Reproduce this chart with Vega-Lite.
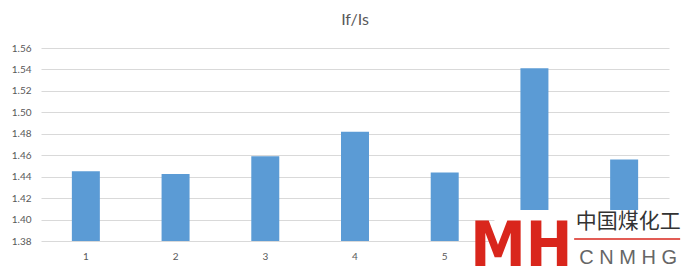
{
  "$schema": "https://vega.github.io/schema/vega-lite/v6.json",
  "width": 628,
  "height": 193,
  "autosize": {"type": "none"},
  "padding": {"left": 41, "top": 48, "right": 16, "bottom": 33},
  "background": "white",
  "config": {
    "view": {"stroke": null},
    "font": "Lato",
    "title": {"font": "Lato", "fontSize": 16, "fontWeight": "normal", "color": "#595959", "anchor": "middle", "offset": 15},
    "axisY": {"tickCount": 10}
  },
  "title": "If/Is",
  "layer": [
    {
      "data": {"values": [
        {"sample": "1", "value": 1.445},
        {"sample": "2", "value": 1.4425},
        {"sample": "3", "value": 1.459},
        {"sample": "4", "value": 1.482},
        {"sample": "5", "value": 1.444},
        {"sample": "6", "value": 1.541},
        {"sample": "7", "value": 1.456}
      ]},
      "mark": {"type": "bar", "color": "#5b9bd5", "clip": true},
      "encoding": {
        "x": {
          "field": "sample", "type": "nominal", "sort": null,
          "scale": {"paddingInner": 0.688, "paddingOuter": 0.344},
          "axis": {"title": null, "labelAngle": 0, "ticks": false, "domain": false, "labelColor": "#595959", "labelFontSize": 10, "labelFont": "Lato", "labelPadding": 10}
        },
        "y": {
          "field": "value", "type": "quantitative",
          "scale": {"domain": [1.38, 1.56], "zero": false, "nice": false},
          "axis": {"title": null, "values": [1.38, 1.40, 1.42, 1.44, 1.46, 1.48, 1.50, 1.52, 1.54, 1.56], "tickCount": 10, "format": ".2f", "labelOverlap": false, "ticks": false, "domain": false, "gridColor": "#d9d9d9", "gridWidth": 1, "labelColor": "#595959", "labelFontSize": 10, "labelFont": "Lato", "labelPadding": 10}
        }
      }
    },
    {
      "data": {"values": [{"box": "logo"}]},
      "mark": {"type": "rect", "color": "white", "clip": false, "xOffset": -40, "x2Offset": 75},
      "encoding": {
        "x": {"datum": "6", "type": "nominal"},
        "x2": {"datum": "7"},
        "y": {"datum": 1.4089, "type": "quantitative", "axis": {"title": null, "values": [1.38, 1.40, 1.42, 1.44, 1.46, 1.48, 1.50, 1.52, 1.54, 1.56], "tickCount": 10, "format": ".2f", "labelOverlap": false, "ticks": false, "domain": false, "gridColor": "#d9d9d9", "gridWidth": 1, "labelColor": "#595959", "labelFontSize": 10, "labelFont": "Lato", "labelPadding": 10}},
        "y2": {"datum": 1.3492}
      }
    },
    {
      "data": {"values": [{"brand": "MH"}]},
      "mark": {"type": "text", "color": "#d9261c", "fontSize": 62, "fontWeight": "bold", "font": "DejaVu Sans Condensed", "baseline": "alphabetic", "dx": -13, "dy": 25, "clip": false},
      "encoding": {
        "x": {"datum": "6", "type": "nominal"},
        "y": {"datum": 1.38, "type": "quantitative", "axis": {"title": null, "values": [1.38, 1.40, 1.42, 1.44, 1.46, 1.48, 1.50, 1.52, 1.54, 1.56], "tickCount": 10, "format": ".2f", "labelOverlap": false, "ticks": false, "domain": false, "gridColor": "#d9d9d9", "gridWidth": 1, "labelColor": "#595959", "labelFontSize": 10, "labelFont": "Lato", "labelPadding": 10}},
        "text": {"field": "brand"}
      }
    },
    {
      "data": {"values": [{"line": "rule"}]},
      "mark": {"type": "rule", "color": "#d9261c", "strokeWidth": 1.5, "clip": false, "xOffset": -50, "x2Offset": 56},
      "encoding": {
        "x": {"datum": "7", "type": "nominal"},
        "x2": {"datum": "7"},
        "y": {"datum": 1.3818, "type": "quantitative", "axis": {"title": null, "values": [1.38, 1.40, 1.42, 1.44, 1.46, 1.48, 1.50, 1.52, 1.54, 1.56], "tickCount": 10, "format": ".2f", "labelOverlap": false, "ticks": false, "domain": false, "gridColor": "#d9d9d9", "gridWidth": 1, "labelColor": "#595959", "labelFontSize": 10, "labelFont": "Lato", "labelPadding": 10}}
      }
    },
    {
      "data": {"values": [{"name": "中国煤化工"}]},
      "mark": {"type": "text", "color": "#333333", "fontSize": 21, "font": "Noto Sans CJK SC", "baseline": "middle", "dx": 4},
      "encoding": {
        "x": {"datum": "7", "type": "nominal"},
        "y": {"datum": 1.3977, "type": "quantitative", "axis": {"title": null, "values": [1.38, 1.40, 1.42, 1.44, 1.46, 1.48, 1.50, 1.52, 1.54, 1.56], "tickCount": 10, "format": ".2f", "labelOverlap": false, "ticks": false, "domain": false, "gridColor": "#d9d9d9", "gridWidth": 1, "labelColor": "#595959", "labelFontSize": 10, "labelFont": "Lato", "labelPadding": 10}},
        "text": {"field": "name"}
      }
    },
    {
      "data": {"values": [{"name": "C N M H G"}]},
      "mark": {"type": "text", "color": "#666666", "fontSize": 20, "font": "Liberation Sans", "baseline": "middle", "dx": 4, "clip": false},
      "encoding": {
        "x": {"datum": "7", "type": "nominal"},
        "y": {"datum": 1.3641, "type": "quantitative", "axis": {"title": null, "values": [1.38, 1.40, 1.42, 1.44, 1.46, 1.48, 1.50, 1.52, 1.54, 1.56], "tickCount": 10, "format": ".2f", "labelOverlap": false, "ticks": false, "domain": false, "gridColor": "#d9d9d9", "gridWidth": 1, "labelColor": "#595959", "labelFontSize": 10, "labelFont": "Lato", "labelPadding": 10}},
        "text": {"field": "name"}
      }
    }
  ]
}
